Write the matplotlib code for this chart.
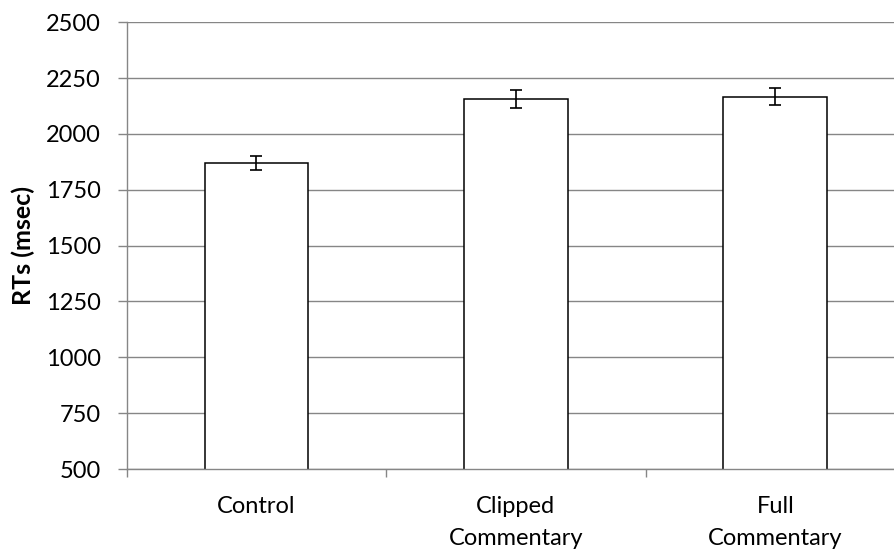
import matplotlib
matplotlib.use("Agg")
import matplotlib.pyplot as plt

categories = ["Control", "Clipped\nCommentary", "Full\nCommentary"]
means = [1869, 2157, 2167]
errors = [31, 40, 39]
yticks = [500, 750, 1000, 1250, 1500, 1750, 2000, 2250, 2500]

plt.rcParams['font.family'] = ['Lato', 'DejaVu Sans']

fig = plt.figure(figsize=(8.95, 5.56), dpi=100)
L, R = 126.7 / 895, 905 / 895
B, T = (556 - 469) / 556, (556 - 22.3) / 556
ax = fig.add_axes([L, B, R - L, T - B])

gray = '#868686'
x = list(range(len(categories)))
ax.bar(x, means, width=0.4, color='white', edgecolor='black', linewidth=1.1, zorder=3)
ax.errorbar(x, means, yerr=errors, fmt='none', ecolor='black', elinewidth=1.2,
            capsize=4.3, capthick=1.2, zorder=4)

ax.set_ylim(500, 2500)
ax.set_xlim(-0.5, 2.5)
ax.set_yticks(yticks)
ax.set_yticklabels([str(v) for v in yticks])
ax.yaxis.grid(True, color=gray, linewidth=1.0, zorder=0)
ax.set_axisbelow(True)

ax.set_xticks([-0.5, 0.5, 1.5, 2.5])
ax.set_xticklabels([])
ax.set_xticks(x, minor=True)
ax.set_xticklabels(categories, minor=True, fontsize=17, linespacing=1.65)
ax.tick_params(axis='x', which='major', length=6, color=gray, width=1.0)
ax.tick_params(axis='x', which='minor', length=0, pad=19.5)
ax.tick_params(axis='y', length=6.5, color=gray, width=1.0, labelsize=17, pad=12)

for s in ['top', 'right']:
    ax.spines[s].set_visible(False)
for s in ['left', 'bottom']:
    ax.spines[s].set_color(gray)
    ax.spines[s].set_linewidth(1.0)
    ax.spines[s].set_zorder(5)

ax.set_ylabel("RTs (msec)", fontsize=18, fontweight='bold')
ax.yaxis.set_label_coords((35 - 126.7) / (905 - 126.7), 0.5)

fig.savefig("out.png", dpi=100)
